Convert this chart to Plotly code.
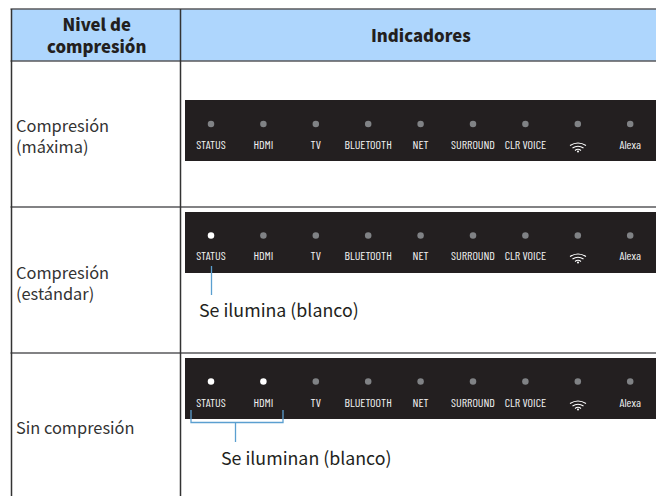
import plotly.graph_objects as go

# --- data ---
indicators = ["STATUS", "HDMI", "TV", "BLUETOOTH", "NET", "SURROUND", "CLR VOICE", "Wi-Fi", "Alexa"]
indicator_text = ["STATUS", "HDMI", "TV", "BLUETOOTH", "NET", "SURROUND", "CLR VOICE", "", "Alexa"]
levels = ["Compresión<br>(máxima)", "Compresión<br>(estándar)", "Sin compresión"]
lit_counts = [0, 1, 2]
header_left = "Nivel de<br>compresión"
header_right = "Indicadores"
callouts = ["Se ilumina (blanco)", "Se iluminan (blanco)"]

# --- layout constants (pixels) ---
W, H = 656, 496
COL0, COL1 = 11.5, 180.5
TOP, HEAD = 9, 61
ROW_LINES = [207, 353]
BARS = [(100, 161), (212, 273), (358, 419)]
LED_Y = [124, 235.5, 381.5]
LABEL_Y = [146, 257, 404]
LEVEL_Y = [135, 282, 427]
BAR_X0 = 185
FIRST_LED_PX, LED_STEP_PX = 211, 52.4
DARK, GREY, LINE, BLUE = "#231f20", "#808285", "#58595b", "#5b9fd0"
BODY = "Noto Sans CJK JP"
NARROW = "Barlow Condensed, Roboto Condensed, Liberation Sans, sans-serif"


def X(p):
    return p / W


fig = go.Figure()

for r, (ly, ty) in enumerate(zip(LED_Y, LABEL_Y)):
    colors = ["#ffffff" if i < lit_counts[r] else GREY for i in range(len(indicators))]
    fig.add_trace(go.Scatter(x=indicators, y=[ly] * len(indicators), mode="markers",
                             marker=dict(size=6.5, color=colors, line=dict(width=0)), hoverinfo="skip"))
    fig.add_trace(go.Scatter(x=indicators, y=[ty] * len(indicators), mode="text",
                             text=indicator_text,
                             textfont=dict(family=NARROW, size=12, color="#f2f2f2", weight=400),
                             hoverinfo="skip"))

px = dict(xref="paper", yref="y")
shapes = [dict(type="rect", x0=X(COL0), x1=1, y0=TOP, y1=HEAD, fillcolor="#aed6fd", line_width=0, layer="below", **px)]
for y0, y1 in BARS:
    shapes.append(dict(type="rect", x0=X(BAR_X0), x1=1, y0=y0, y1=y1, fillcolor=DARK, line_width=0, layer="below", **px))
for y in [TOP, HEAD] + ROW_LINES:
    shapes.append(dict(type="line", x0=X(COL0 - 1), x1=1, y0=y, y1=y, line=dict(color=LINE, width=1.5), layer="below", **px))
for x in [COL0, COL1]:
    shapes.append(dict(type="line", x0=X(x), x1=X(x), y0=TOP, y1=H, line=dict(color="#333333", width=1.5), layer="below", **px))

# wifi icon, relative to the label line of each row
for ty in LABEL_Y:
    c = 578
    for dx, y_end, y_ctrl, w in [(8, -0.5, -5.5, 1.1), (5.5, 2, -1.5, 1.1), (3, 4.5, 2, 1.1)]:
        shapes.append(dict(type="path",
                           path=f"M {X(c-dx)} {ty+y_end} Q {X(c)} {ty+y_ctrl} {X(c+dx)} {ty+y_end}",
                           line=dict(color="#ffffff", width=w), **px))
    shapes.append(dict(type="circle", x0=X(c - 1), x1=X(c + 1), y0=ty + 4.5, y1=ty + 6.5,
                       fillcolor="#ffffff", line_width=0, **px))

# callout leaders
blue = dict(color=BLUE, width=1.3)
shapes.append(dict(type="line", x0=X(211.5), x1=X(211.5), y0=266, y1=295, line=blue, **px))
shapes.append(dict(type="path", path=f"M {X(191)} 410 L {X(191)} 422.5 L {X(283)} 422.5 L {X(283)} 410", line=blue, **px))
shapes.append(dict(type="line", x0=X(235.5), x1=X(235.5), y0=422.5, y1=442, line=blue, **px))

ann = []
head_font = dict(family=BODY, size=16.7, color="#231f20", weight=900)
ann.append(dict(x=X(96), y=35, text=header_left, showarrow=False, align="center", xanchor="center",
                font=head_font, **px))
ann.append(dict(x=X(421), y=35, text=header_right, showarrow=False, xanchor="center", font=head_font, **px))
for t, y in zip(levels, LEVEL_Y):
    ann.append(dict(x=X(13.5), y=y, text=t, showarrow=False, xanchor="left", align="left",
                    font=dict(family=BODY, size=16.4, color="#333333"), **px))
ann.append(dict(x=X(197), y=309, text=callouts[0], showarrow=False, xanchor="left",
                font=dict(family=BODY, size=17.8, color="#231f20"), **px))
ann.append(dict(x=X(219), y=457, text=callouts[1], showarrow=False, xanchor="left",
                font=dict(family=BODY, size=17.8, color="#231f20"), **px))

fig.update_layout(
    width=W, height=H, margin=dict(l=0, r=0, t=0, b=0), showlegend=False,
    paper_bgcolor="#ffffff", plot_bgcolor="#ffffff", shapes=shapes, annotations=ann,
    xaxis=dict(type="category", categoryorder="array", categoryarray=indicators,
               range=[-FIRST_LED_PX / LED_STEP_PX, (W - FIRST_LED_PX) / LED_STEP_PX],
               visible=False, fixedrange=True),
    yaxis=dict(range=[H, 0], visible=False, fixedrange=True),
)
fig.write_html("out.html", config=dict(displayModeBar=False),
               post_script="document.body.style.margin='0';document.documentElement.style.overflow='hidden';")
